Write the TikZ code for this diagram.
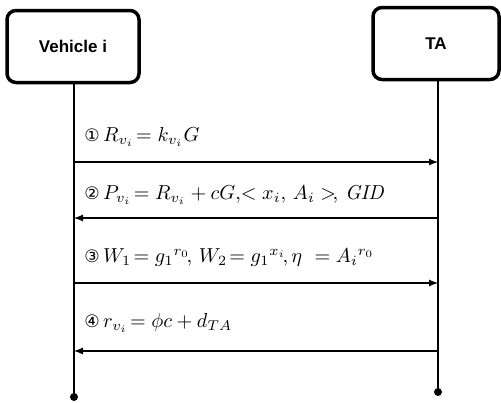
\documentclass[tikz,border=0pt]{standalone}
\usepackage{amsmath}
\usepackage{fontspec}
\newfontfamily\hdfont{Liberation Sans}
\newfontfamily\symfont{DejaVu Sans}
\usetikzlibrary{arrows.meta}
\newcommand{\cnum}[1]{{\symfont\fontsize{8.5}{9}\selectfont #1}}
\begin{document}
\begin{tikzpicture}[x=1pt,y=-1pt,
  actor/.style={draw,line width=3.5pt,rounded corners=9pt,minimum width=#1,minimum height=72pt,inner sep=0pt,
    font=\hdfont\bfseries\fontsize{17}{20}\selectfont},
  life/.style={line width=2.2pt},
  msg/.style={line width=1.1pt,-{Latex[length=9pt,width=7pt]}},
  lbl/.style={anchor=west,inner sep=0pt,scale=2.02},
  enddot/.style={circle,fill,inner sep=0pt,minimum size=8pt}]
\useasboundingbox (0,0) rectangle (501,402);
\node[actor=132pt] (veh) at (73,46.5) {Vehicle i};
\node[actor=126pt] (ta) at (436,43.5) {TA};
\node[enddot] (vend) at (74,397) {};
\node[enddot] (tend) at (438,392) {};
\draw[life] (veh.south -| vend) -- (vend.center);
\draw[life] (ta.south -| tend) -- (tend.center);
\coordinate (v1) at (74,162); \coordinate (t1) at (438,162);
\coordinate (v2) at (74,218); \coordinate (t2) at (438,218);
\coordinate (v3) at (74,283); \coordinate (t3) at (438,283);
\coordinate (v4) at (74,351); \coordinate (t4) at (438,351);
\draw[msg] (v1) -- (t1);
\draw[msg] (t2) -- (v2);
\draw[msg] (v3) -- (t3);
\draw[msg] (t4) -- (v4);
\node[lbl] (m1) at (84,137) {\cnum{①}\,$R_{v_i}\!= k_{v_i}G$};
\node[lbl] (m2) at (84,195) {\cnum{②}\,$P_{v_i}\!= R_{v_i} + cG,\!<x_i,\, A_i>\!,\, \mathit{GID}$};
\node[lbl] (m3) at (84,258) {\cnum{③}\,$W_1\!= g_1{}^{r_0}\!,\, W_2\!= g_1{}^{x_i}\!,\eta\ = A_i{}^{r_0}$};
\node[lbl] (m4) at (84,323) {\cnum{④}\,$r_{v_i}\!= \phi c + d_{TA}$};
\end{tikzpicture}
\end{document}
